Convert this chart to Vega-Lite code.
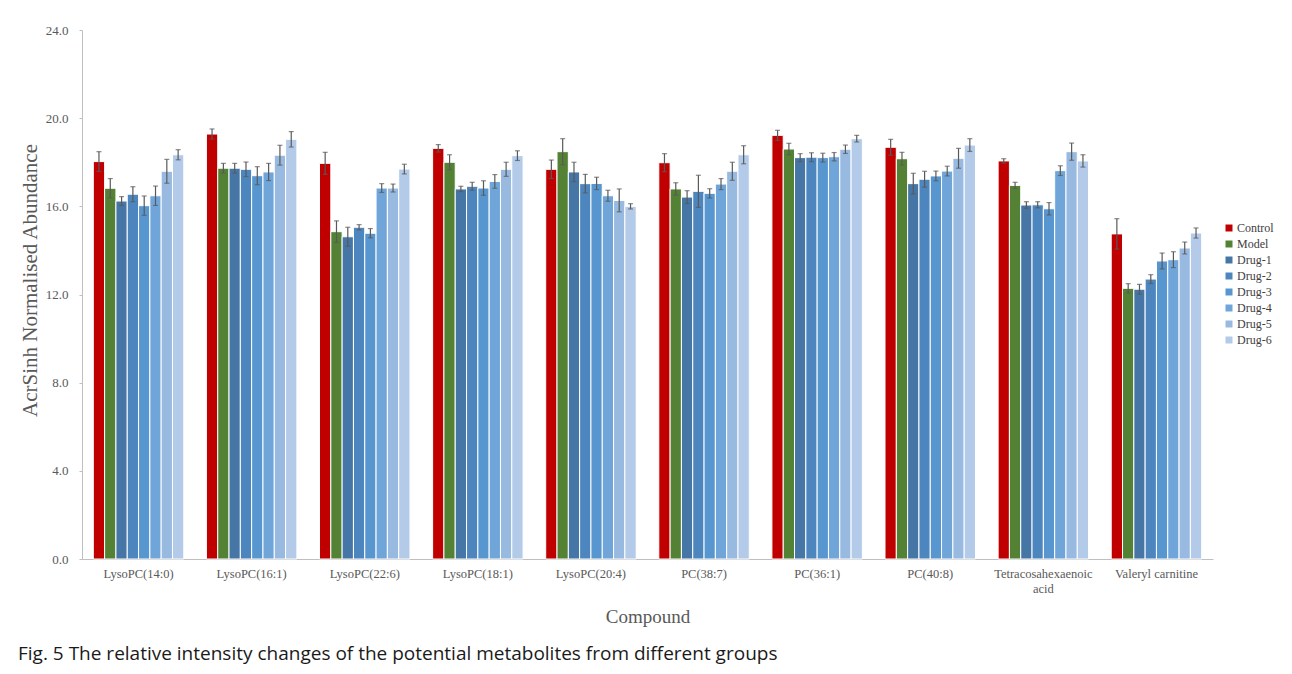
{
  "$schema": "https://vega.github.io/schema/vega-lite/v6.json",
  "width": 1131,
  "height": 529,
  "autosize": "none",
  "padding": {"left": 82, "top": 30, "right": 79, "bottom": 115},
  "background": "white",
  "config": {"view": {"stroke": null}, "font": "Liberation Serif"},
  "title": {
    "text": "Fig. 5 The relative intensity changes of the potential metabolites from different groups",
    "orient": "bottom",
    "anchor": "start",
    "frame": "group",
    "font": "Open Sans",
    "fontSize": 19,
    "fontWeight": "normal",
    "color": "#1a1a1a",
    "offset": 18,
    "dx": -64
  },
  "data": {
    "values": [
      {"compound": "LysoPC(14:0)", "group": "Control", "value": 18.03, "err": 0.45},
      {"compound": "LysoPC(14:0)", "group": "Model", "value": 16.82, "err": 0.44},
      {"compound": "LysoPC(14:0)", "group": "Drug-1", "value": 16.24, "err": 0.2},
      {"compound": "LysoPC(14:0)", "group": "Drug-2", "value": 16.55, "err": 0.34},
      {"compound": "LysoPC(14:0)", "group": "Drug-3", "value": 16.03, "err": 0.44},
      {"compound": "LysoPC(14:0)", "group": "Drug-4", "value": 16.48, "err": 0.44},
      {"compound": "LysoPC(14:0)", "group": "Drug-5", "value": 17.59, "err": 0.54},
      {"compound": "LysoPC(14:0)", "group": "Drug-6", "value": 18.34, "err": 0.23},
      {"compound": "LysoPC(16:1)", "group": "Control", "value": 19.28, "err": 0.23},
      {"compound": "LysoPC(16:1)", "group": "Model", "value": 17.73, "err": 0.22},
      {"compound": "LysoPC(16:1)", "group": "Drug-1", "value": 17.73, "err": 0.22},
      {"compound": "LysoPC(16:1)", "group": "Drug-2", "value": 17.68, "err": 0.33},
      {"compound": "LysoPC(16:1)", "group": "Drug-3", "value": 17.39, "err": 0.41},
      {"compound": "LysoPC(16:1)", "group": "Drug-4", "value": 17.56, "err": 0.39},
      {"compound": "LysoPC(16:1)", "group": "Drug-5", "value": 18.32, "err": 0.45},
      {"compound": "LysoPC(16:1)", "group": "Drug-6", "value": 19.04, "err": 0.35},
      {"compound": "LysoPC(22:6)", "group": "Control", "value": 17.95, "err": 0.5},
      {"compound": "LysoPC(22:6)", "group": "Model", "value": 14.85, "err": 0.49},
      {"compound": "LysoPC(22:6)", "group": "Drug-1", "value": 14.62, "err": 0.43},
      {"compound": "LysoPC(22:6)", "group": "Drug-2", "value": 15.05, "err": 0.12},
      {"compound": "LysoPC(22:6)", "group": "Drug-3", "value": 14.78, "err": 0.21},
      {"compound": "LysoPC(22:6)", "group": "Drug-4", "value": 16.83, "err": 0.2},
      {"compound": "LysoPC(22:6)", "group": "Drug-5", "value": 16.83, "err": 0.18},
      {"compound": "LysoPC(22:6)", "group": "Drug-6", "value": 17.69, "err": 0.22},
      {"compound": "LysoPC(18:1)", "group": "Control", "value": 18.63, "err": 0.17},
      {"compound": "LysoPC(18:1)", "group": "Model", "value": 18.0, "err": 0.34},
      {"compound": "LysoPC(18:1)", "group": "Drug-1", "value": 16.79, "err": 0.12},
      {"compound": "LysoPC(18:1)", "group": "Drug-2", "value": 16.91, "err": 0.18},
      {"compound": "LysoPC(18:1)", "group": "Drug-3", "value": 16.83, "err": 0.33},
      {"compound": "LysoPC(18:1)", "group": "Drug-4", "value": 17.13, "err": 0.31},
      {"compound": "LysoPC(18:1)", "group": "Drug-5", "value": 17.68, "err": 0.32},
      {"compound": "LysoPC(18:1)", "group": "Drug-6", "value": 18.3, "err": 0.22},
      {"compound": "LysoPC(20:4)", "group": "Control", "value": 17.68, "err": 0.42},
      {"compound": "LysoPC(20:4)", "group": "Model", "value": 18.48, "err": 0.59},
      {"compound": "LysoPC(20:4)", "group": "Drug-1", "value": 17.56, "err": 0.44},
      {"compound": "LysoPC(20:4)", "group": "Drug-2", "value": 17.03, "err": 0.42},
      {"compound": "LysoPC(20:4)", "group": "Drug-3", "value": 17.04, "err": 0.28},
      {"compound": "LysoPC(20:4)", "group": "Drug-4", "value": 16.48, "err": 0.25},
      {"compound": "LysoPC(20:4)", "group": "Drug-5", "value": 16.27, "err": 0.52},
      {"compound": "LysoPC(20:4)", "group": "Drug-6", "value": 16.0, "err": 0.12},
      {"compound": "PC(38:7)", "group": "Control", "value": 17.98, "err": 0.41},
      {"compound": "PC(38:7)", "group": "Model", "value": 16.79, "err": 0.28},
      {"compound": "PC(38:7)", "group": "Drug-1", "value": 16.42, "err": 0.29},
      {"compound": "PC(38:7)", "group": "Drug-2", "value": 16.68, "err": 0.73},
      {"compound": "PC(38:7)", "group": "Drug-3", "value": 16.59, "err": 0.21},
      {"compound": "PC(38:7)", "group": "Drug-4", "value": 17.01, "err": 0.25},
      {"compound": "PC(38:7)", "group": "Drug-5", "value": 17.59, "err": 0.41},
      {"compound": "PC(38:7)", "group": "Drug-6", "value": 18.34, "err": 0.41},
      {"compound": "PC(36:1)", "group": "Control", "value": 19.22, "err": 0.23},
      {"compound": "PC(36:1)", "group": "Model", "value": 18.6, "err": 0.26},
      {"compound": "PC(36:1)", "group": "Drug-1", "value": 18.21, "err": 0.18},
      {"compound": "PC(36:1)", "group": "Drug-2", "value": 18.23, "err": 0.2},
      {"compound": "PC(36:1)", "group": "Drug-3", "value": 18.21, "err": 0.2},
      {"compound": "PC(36:1)", "group": "Drug-4", "value": 18.25, "err": 0.19},
      {"compound": "PC(36:1)", "group": "Drug-5", "value": 18.59, "err": 0.19},
      {"compound": "PC(36:1)", "group": "Drug-6", "value": 19.07, "err": 0.15},
      {"compound": "PC(40:8)", "group": "Control", "value": 18.68, "err": 0.36},
      {"compound": "PC(40:8)", "group": "Model", "value": 18.16, "err": 0.29},
      {"compound": "PC(40:8)", "group": "Drug-1", "value": 17.03, "err": 0.47},
      {"compound": "PC(40:8)", "group": "Drug-2", "value": 17.23, "err": 0.36},
      {"compound": "PC(40:8)", "group": "Drug-3", "value": 17.38, "err": 0.22},
      {"compound": "PC(40:8)", "group": "Drug-4", "value": 17.6, "err": 0.22},
      {"compound": "PC(40:8)", "group": "Drug-5", "value": 18.18, "err": 0.45},
      {"compound": "PC(40:8)", "group": "Drug-6", "value": 18.78, "err": 0.29},
      {"compound": "Tetracosahexaenoic acid", "group": "Control", "value": 18.06, "err": 0.1},
      {"compound": "Tetracosahexaenoic acid", "group": "Model", "value": 16.95, "err": 0.14},
      {"compound": "Tetracosahexaenoic acid", "group": "Drug-1", "value": 16.06, "err": 0.15},
      {"compound": "Tetracosahexaenoic acid", "group": "Drug-2", "value": 16.07, "err": 0.14},
      {"compound": "Tetracosahexaenoic acid", "group": "Drug-3", "value": 15.89, "err": 0.28},
      {"compound": "Tetracosahexaenoic acid", "group": "Drug-4", "value": 17.62, "err": 0.22},
      {"compound": "Tetracosahexaenoic acid", "group": "Drug-5", "value": 18.48, "err": 0.39},
      {"compound": "Tetracosahexaenoic acid", "group": "Drug-6", "value": 18.06, "err": 0.28},
      {"compound": "Valeryl carnitine", "group": "Control", "value": 14.75, "err": 0.69},
      {"compound": "Valeryl carnitine", "group": "Model", "value": 12.28, "err": 0.21},
      {"compound": "Valeryl carnitine", "group": "Drug-1", "value": 12.24, "err": 0.22},
      {"compound": "Valeryl carnitine", "group": "Drug-2", "value": 12.7, "err": 0.2},
      {"compound": "Valeryl carnitine", "group": "Drug-3", "value": 13.52, "err": 0.36},
      {"compound": "Valeryl carnitine", "group": "Drug-4", "value": 13.58, "err": 0.36},
      {"compound": "Valeryl carnitine", "group": "Drug-5", "value": 14.11, "err": 0.27},
      {"compound": "Valeryl carnitine", "group": "Drug-6", "value": 14.79, "err": 0.23}
    ]
  },
  "encoding": {
    "x": {
      "field": "compound",
      "type": "nominal",
      "sort": null,
      "scale": {"paddingInner": 0.2, "paddingOuter": 0.1},
      "title": "Compound",
      "axis": {
        "labelAngle": 0,
        "ticks": false,
        "domainColor": "#BFBFBF",
        "labelFont": "Liberation Serif",
        "labelFontSize": 12.5,
        "labelColor": "#595959",
        "labelPadding": 8,
        "labelLineHeight": 15,
        "labelExpr": "datum.value == 'Tetracosahexaenoic acid' ? ['Tetracosahexaenoic', 'acid'] : datum.value",
        "titleFont": "Liberation Serif",
        "titleFontSize": 19,
        "titleFontWeight": "normal",
        "titleColor": "#595959",
        "titlePadding": 13
      }
    },
    "xOffset": {
      "field": "group",
      "type": "nominal",
      "sort": ["Control", "Model", "Drug-1", "Drug-2", "Drug-3", "Drug-4", "Drug-5", "Drug-6"],
      "scale": {"paddingInner": 0, "paddingOuter": 0}
    }
  },
  "layer": [
    {
      "mark": {"type": "bar", "stroke": "white", "strokeWidth": 1},
      "encoding": {
        "y": {
          "field": "value",
          "type": "quantitative",
          "scale": {"domain": [0, 24], "nice": false},
          "title": "AcrSinh Normalised Abundance",
          "axis": {
            "values": [0, 4, 8, 12, 16, 20, 24],
            "format": ".1f",
            "grid": false,
            "domainColor": "#BFBFBF",
            "tickColor": "#BFBFBF",
            "tickSize": 3,
            "labelFont": "Liberation Serif",
            "labelFontSize": 13,
            "labelColor": "#595959",
            "labelPadding": 11,
            "titleFont": "Liberation Serif",
            "titleFontSize": 21,
            "titleFontWeight": "normal",
            "titleColor": "#595959",
            "titlePadding": 5,
            "titleY": 250
          }
        },
        "color": {
          "field": "group",
          "type": "nominal",
          "sort": ["Control", "Model", "Drug-1", "Drug-2", "Drug-3", "Drug-4", "Drug-5", "Drug-6"],
          "scale": {
            "domain": ["Control", "Model", "Drug-1", "Drug-2", "Drug-3", "Drug-4", "Drug-5", "Drug-6"],
            "range": ["#C00000", "#548235", "#4676A6", "#4D86BE", "#5896D0", "#70A5DA", "#98BAE1", "#B3CBE8"]
          },
          "legend": {
            "title": null,
            "orient": "none",
            "legendX": 1141,
            "legendY": 192,
            "symbolType": "square",
            "symbolSize": 49,
            "symbolStrokeWidth": 0,
            "labelFont": "Liberation Serif",
            "labelFontSize": 12,
            "labelColor": "#404040",
            "labelOffset": 2,
            "rowPadding": 4
          }
        }
      }
    },
    {
      "mark": {"type": "errorbar", "ticks": {"size": 5}, "color": "#595959", "thickness": 1.2},
      "encoding": {
        "y": {"field": "value", "type": "quantitative", "title": "AcrSinh Normalised Abundance"},
        "yError": {"field": "err"}
      }
    }
  ]
}
